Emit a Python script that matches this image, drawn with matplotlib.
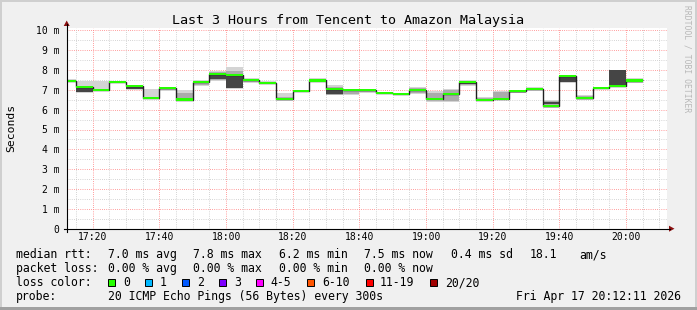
import matplotlib
matplotlib.use('Agg')
import matplotlib.pyplot as plt
import numpy as np
from matplotlib.patches import Rectangle, Polygon
from matplotlib.lines import Line2D

W, H = 697, 310
MONO = 'DejaVu Sans Mono'

# ---------------- data ----------------
seg_start = ["17:10", "17:15", "17:20", "17:25", "17:30", "17:35", "17:40",
             "17:45", "17:50", "17:55", "18:00", "18:05", "18:10", "18:15",
             "18:20", "18:25", "18:30", "18:35", "18:40", "18:45", "18:50",
             "18:55", "19:00", "19:05", "19:10", "19:15", "19:20", "19:25",
             "19:30", "19:35", "19:40", "19:45", "19:50", "19:55", "20:00"]

median_ms = [7.45, 7.13, 7.01, 7.40, 7.18, 6.58, 7.09, 6.51, 7.40, 7.80,
             7.76, 7.50, 7.35, 6.53, 6.95, 7.47, 7.05, 6.99, 7.00, 6.84,
             6.79, 6.99, 6.55, 6.79, 7.40, 6.50, 6.53, 6.94, 7.03, 6.19,
             7.71, 6.58, 7.09, 7.21, 7.47]

smoke_lo = [7.37, 6.84, 6.93, 7.36, 7.00, 6.52, 6.93, 6.46, 7.20, 7.45,
            7.06, 7.33, 7.30, 6.45, 6.92, 7.35, 6.74, 6.76, 6.85, 6.82,
            6.77, 6.80, 6.41, 6.38, 7.20, 6.46, 6.50, 6.83, 6.95, 6.07,
            7.36, 6.50, 7.07, 7.18, 7.32]
smoke_hi = [7.57, 7.44, 7.44, 7.46, 7.24, 7.05, 7.14, 7.01, 7.47, 7.97,
            8.17, 7.58, 7.42, 6.82, 6.98, 7.58, 7.24, 7.06, 7.05, 6.87,
            6.82, 7.13, 6.92, 7.06, 7.47, 6.65, 6.94, 6.99, 7.16, 6.48,
            7.76, 6.76, 7.11, 8.00, 7.62]

mid_lo = [7.40, 6.87, None, None, 7.03, None, 6.98, 6.55, 7.25, 7.50,
          7.08, 7.38, None, 6.50, None, 7.40, 6.76, 6.80, 6.90, None,
          None, 6.84, 6.48, 6.45, 7.25, 6.48, 6.55, 6.86, 6.98, 6.12,
          7.38, 6.53, None, 7.20, 7.36]
mid_hi = [7.50, 7.20, None, None, 7.20, None, 7.10, 6.82, 7.42, 7.90,
          7.95, 7.53, None, 6.65, None, 7.52, 7.15, 7.02, 7.03, None,
          None, 7.07, 6.82, 7.00, 7.43, 6.58, 6.90, 6.97, 7.10, 6.42,
          7.72, 6.70, None, 8.00, 7.55]

dark_lo = [None, 6.89, None, None, 7.05, None, None, None, None, 7.55,
           7.08, None, None, None, None, None, 6.77, None, None, None,
           None, None, None, None, 7.30, None, None, None, None, 6.30,
           7.40, None, None, 7.26, None]
dark_hi = [None, 7.07, None, None, 7.14, None, None, None, None, 7.75,
           7.70, None, None, None, None, None, 7.00, None, None, None,
           None, None, None, None, 7.38, None, None, None, None, 6.40,
           7.64, None, None, 7.98, None]

x_tick_labels = ["17:20", "17:40", "18:00", "18:20", "18:40",
                 "19:00", "19:20", "19:40", "20:00"]
y_tick_values = [0, 1, 2, 3, 4, 5, 6, 7, 8, 9, 10]
y_tick_labels = ["0", "1 m", "2 m", "3 m", "4 m", "5 m", "6 m", "7 m",
                 "8 m", "9 m", "10 m"]

view_start = "17:12:11"
view_end = "20:12:11"

loss_labels = ["0", "1", "2", "3", "4-5", "6-10", "11-19", "20/20"]
loss_colors = ["#26ff00", "#00b8ff", "#0059ff", "#7e00ff", "#ff00ff",
               "#ff5500", "#ff0000", "#a10000"]

rtt_stats = ["7.0 ms avg", "7.8 ms max", "6.2 ms min", "7.5 ms now",
             "0.4 ms sd", "18.1", "am/s"]
loss_stats = ["0.00 % avg", "0.00 % max", "0.00 % min", "0.00 % now"]
probe_text = "20 ICMP Echo Pings (56 Bytes) every 300s"
stamp_text = "Fri Apr 17 20:12:11 2026"
title = "Last 3 Hours from Tencent to Amazon Malaysia"


def tmin(s):
    parts = [int(p) for p in s.split(":")]
    while len(parts) < 3:
        parts.append(0)
    return parts[0] * 60 + parts[1] + parts[2] / 60.0


STEP = 5
starts = np.array([tmin(s) for s in seg_start])

# ---------------- figure ----------------
fig = plt.figure(figsize=(W / 100, H / 100), dpi=100)
fig.patch.set_facecolor("#f0f0f0")


def fx(x):
    return x / W


def fy(y):
    return 1 - y / H


# border shading
fig.add_artist(Rectangle((0, fy(2)), 1, 2 / H, transform=fig.transFigure,
                         color="#cfcfcf", lw=0))
fig.add_artist(Rectangle((0, 0), 2 / W, 1, transform=fig.transFigure,
                         color="#cfcfcf", lw=0))
fig.add_artist(Rectangle((fx(695), 0), 2 / W, 1, transform=fig.transFigure,
                         color="#cfcfcf", lw=0))
fig.add_artist(Rectangle((0, 0), 1, 3 / H, transform=fig.transFigure,
                         color="#a0a0a0", lw=0))

L, R, T, B = 66.7, 666.7, 28.0, 228.7
ax = fig.add_axes([fx(L), fy(B), (R - L) / W, (B - T) / H])
ax.set_facecolor("white")
x0, x1 = tmin(view_start), tmin(view_end)
ax.set_xlim(x0, x1)
ax.set_ylim(0, (B - T) / 19.84)
for s in ax.spines.values():
    s.set_visible(False)

# grid
dash = (0, (0.72, 1.44))
for v in np.arange(0.5, 10.01, 0.5):
    major = abs(v - round(v)) < 1e-6
    ax.axhline(v, color="#ff8080" if major else "#c8c8c8", lw=0.72,
               ls=dash, zorder=1)
major_x = [tmin(s) for s in x_tick_labels]
t = tmin("17:15")
while t < x1:
    is_major = any(abs(t - m) < 1e-6 for m in major_x)
    ax.axvline(t, color="#ff8080" if is_major else "#c8c8c8", lw=0.72,
               ls=dash, zorder=1)
    t += STEP


def bands(lo, hi, color, z):
    idx = [i for i in range(len(lo)) if lo[i] is not None]
    ax.bar(starts[idx], [hi[i] - lo[i] for i in idx], bottom=[lo[i] for i in idx],
           width=STEP, align="edge", color=color, lw=0, zorder=z)


bands(smoke_lo, smoke_hi, "#d4d4d4", 2)
bands(mid_lo, mid_hi, "#ababab", 3)
bands(dark_lo, dark_hi, "#454545", 4)

edges = np.append(starts, starts[-1] + STEP)
ax.stairs(median_ms, edges, baseline=None, color="#202020", lw=1.0, zorder=5)
half = 0.055
ax.bar(starts, [2 * half] * len(median_ms),
       bottom=[m - half for m in median_ms], width=STEP, align="edge",
       color=loss_colors[0], lw=0, zorder=6)

ax.set_xticks(major_x)
ax.set_xticklabels(x_tick_labels, fontfamily=MONO, fontsize=7)
ax.set_yticks(y_tick_values)
ax.set_yticklabels(y_tick_labels, fontfamily=MONO, fontsize=7)
ax.tick_params(axis="x", length=0, pad=2.5)
ax.tick_params(axis="y", length=0, pad=5.2)

# axes lines and arrows
fig.add_artist(Line2D([fx(L), fx(L)], [fy(231.5), fy(24)], color="black",
                      lw=0.8))
fig.add_artist(Line2D([fx(63.5), fx(670)], [fy(B), fy(B)], color="black",
                      lw=0.8))
fig.add_artist(Polygon([[fx(63.7), fy(26)], [fx(69.7), fy(26)],
                        [fx(66.7), fy(20.5)]], closed=True,
                       transform=fig.transFigure, color="#8b1010", lw=0))
fig.add_artist(Polygon([[fx(669), fy(225.7)], [fx(669), fy(231.7)],
                        [fx(674.5), fy(228.7)]], closed=True,
                       transform=fig.transFigure, color="#8b1010", lw=0))

# texts
fig.text(fx(347.5), fy(24), title, fontfamily=MONO, fontsize=9.6,
         ha="center", va="baseline")
fig.text(fx(11), fy(128), "Seconds", fontfamily=MONO, fontsize=8.2,
         rotation=90, ha="center", va="center")
fig.text(fx(687.5), fy(5), "RRDTOOL / TOBI OETIKER", fontfamily=MONO,
         fontsize=5.8, rotation=270, ha="center", va="top", color="#b8b8b8")

FS = 8.3
rows_y = [258.3, 272.3, 286.3, 300.0]
fig.text(fx(16), fy(rows_y[0]), "median rtt:", fontfamily=MONO, fontsize=FS,
         va="baseline")
for s, x in zip(rtt_stats, [107.6, 193.3, 279, 364.4, 451, 530, 579]):
    fig.text(fx(x), fy(rows_y[0]), s, fontfamily=MONO, fontsize=FS,
             va="baseline")
fig.text(fx(16), fy(rows_y[1]), "packet loss:", fontfamily=MONO, fontsize=FS,
         va="baseline")
for s, x in zip(loss_stats, [107.6, 193.3, 279, 364.4]):
    fig.text(fx(x), fy(rows_y[1]), s, fontfamily=MONO, fontsize=FS,
             va="baseline")
fig.text(fx(16), fy(rows_y[2]), "loss color:", fontfamily=MONO, fontsize=FS,
         va="baseline")
sw_x = [108.3, 145.0, 181.7, 219.0, 255.7, 307.3, 365.7, 430.0]
tx_x = [123.3, 160.0, 196.7, 234.0, 270.7, 322.3, 380.0, 445.0]
for lab, col, sx, tx in zip(loss_labels, loss_colors, sw_x, tx_x):
    fig.add_artist(Rectangle((fx(sx), fy(286)), 7 / W, 7 / H,
                             transform=fig.transFigure, facecolor=col,
                             edgecolor="black", lw=0.7))
    fig.text(fx(tx), fy(rows_y[2]), lab, fontfamily=MONO, fontsize=FS,
             va="baseline")
fig.text(fx(16), fy(rows_y[3]), "probe:", fontfamily=MONO, fontsize=FS,
         va="baseline")
fig.text(fx(107.6), fy(rows_y[3]), probe_text, fontfamily=MONO, fontsize=FS,
         va="baseline")
fig.text(fx(681), fy(rows_y[3]), stamp_text, fontfamily=MONO, fontsize=FS,
         va="baseline", ha="right")

fig.savefig("out.png", dpi=100, facecolor=fig.get_facecolor())
